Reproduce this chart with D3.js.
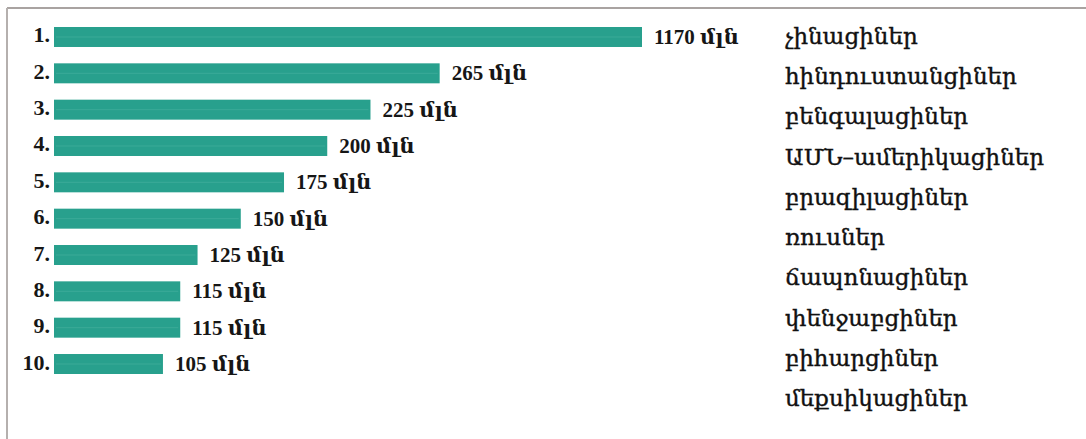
<!DOCTYPE html>
<html>
<head>
<meta charset="utf-8">
<script src="https://cdn.jsdelivr.net/npm/d3@7"></script>
<style>
html, body { margin: 0; padding: 0; background: #ffffff; }
svg { display: block; }
</style>
</head>
<body>
<svg id="chart" width="1086" height="439"></svg>
<script>
// ---- data ----
const ranks = ["1.", "2.", "3.", "4.", "5.", "6.", "7.", "8.", "9.", "10."];
const values = [1170, 265, 225, 200, 175, 150, 125, 115, 115, 105];
const valueUnit = "մլն";
const peoples = [
  "չինացիներ",
  "հինդուստանցիներ",
  "բենգալացիներ",
  "ԱՄՆ–ամերիկացիներ",
  "բրազիլացիներ",
  "ռուսներ",
  "ճապոնացիներ",
  "փենջաբցիներ",
  "բիհարցիներ",
  "մեքսիկացիներ"
];

// ---- layout ----
const W = 1086, H = 439;
const svg = d3.select("#chart");
const serif = "'Liberation Serif', 'DejaVu Serif', serif";
const armenian = "'DejaVu Serif', serif";

// frame (top and left rule)
svg.append("line").attr("x1", 7).attr("x2", W).attr("y1", 8).attr("y2", 8)
  .attr("stroke", "#a9a3a1").attr("stroke-width", 2);
svg.append("line").attr("x1", 7).attr("x2", 7).attr("y1", 8).attr("y2", H)
  .attr("stroke", "#b5b0ae").attr("stroke-width", 2);

// scales: bar 1 is shown broken (clamped)
const x = d3.scaleLinear().domain([42, 382]).range([54, 642]).clamp(true);
const y = d3.scaleBand().domain(ranks).range([27, 374]).paddingInner(0.45).paddingOuter(0);
const yLab = d3.scalePoint().domain(peoples).range([36, 398]);

const rows = svg.append("g").selectAll("g").data(values).join("g");

rows.append("rect")
  .attr("x", x.range()[0])
  .attr("y", (d, i) => y(ranks[i]))
  .attr("width", d => x(d) - x.range()[0])
  .attr("height", y.bandwidth())
  .attr("fill", "#28a08d");

// faint highlight line through bars (scan look)
rows.append("line")
  .attr("x1", x.range()[0] + 2)
  .attr("x2", d => x(d) - 2)
  .attr("y1", (d, i) => y(ranks[i]) + y.bandwidth() / 2)
  .attr("y2", (d, i) => y(ranks[i]) + y.bandwidth() / 2)
  .attr("stroke", "#4db5a3").attr("stroke-width", 1).attr("opacity", 0.5);

rows.append("text")
  .attr("x", 50)
  .attr("y", (d, i) => y(ranks[i]) + y.bandwidth() / 2 - 2)
  .attr("dominant-baseline", "central")
  .attr("text-anchor", "end")
  .attr("font-family", serif)
  .attr("font-weight", "bold")
  .attr("font-size", 22)
  .attr("fill", "#161616")
  .text((d, i) => ranks[i]);

rows.append("text")
  .attr("x", d => x(d) + 12)
  .attr("y", (d, i) => y(ranks[i]) + y.bandwidth() / 2)
  .attr("dominant-baseline", "central")
  .attr("font-family", serif)
  .attr("font-weight", "bold")
  .attr("font-size", 21)
  .attr("fill", "#161616")
  .text(d => d + " " + valueUnit);

svg.append("g").selectAll("text").data(peoples).join("text")
  .attr("x", 785)
  .attr("y", d => yLab(d))
  .attr("dominant-baseline", "central")
  .attr("font-family", armenian)
  .attr("font-size", 23)
  .attr("fill", "#111111")
  .attr("stroke", "#111111")
  .attr("stroke-width", 0.4)
  .text(d => d);
</script>
</body>
</html>
